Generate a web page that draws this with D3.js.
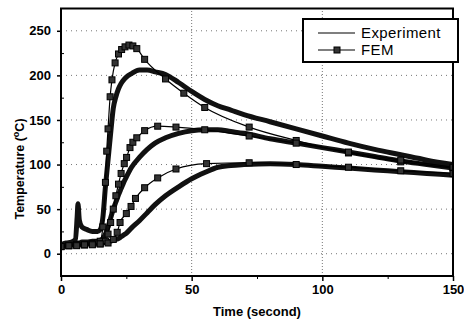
<!DOCTYPE html>
<html>
<head>
<meta charset="utf-8">
<script src="https://cdn.jsdelivr.net/npm/d3@7"></script>
<style>
  body { margin: 0; background: #fff; }
  svg text { font-family: "Liberation Sans", Arial, Helvetica, sans-serif; }
</style>
</head>
<body>
<div class="chart"></div>
<script>
// Experiment curves (shared time base, seconds)
const expTime = [0, 2, 4, 5.5, 6.2, 6.5, 7, 8, 10, 12, 14, 15, 16, 17, 18, 19, 20, 21, 22, 23, 24, 25, 27, 30, 33, 36, 40, 45, 50, 55, 60, 65, 70, 80, 90, 100, 110, 120, 130, 140, 150];
const exp1 = [10, 12, 13, 16, 42, 56, 38, 30, 27, 25, 25, 27, 40, 75, 105, 135, 163, 176, 185, 191, 195, 198, 202, 206, 206, 204, 201, 192, 182, 173, 166, 161, 156, 148, 140, 132, 124, 117, 111, 105, 100];
const exp2 = [10, 11, 12, 12, 12, 12, 12, 13, 13, 14, 14, 15, 17, 22, 30, 40, 50, 58, 66, 73, 80, 86, 97, 108, 117, 124, 130, 135, 138, 139, 139, 137, 135, 129, 124, 119, 114, 109, 104, 100, 96];
const exp3 = [8, 9, 10, 10, 10, 10, 10, 10, 11, 11, 12, 12, 12, 13, 13, 14, 15, 16, 17, 19, 21, 23, 29, 37, 46, 55, 65, 75, 84, 91, 97, 99, 100, 101, 100, 98, 96, 94, 92, 90, 88];

// FEM curves (each with its own time steps)
const fem1Time = [0, 3, 6, 9, 12, 14, 15, 16, 17, 17.5, 18, 18.8, 19.5, 20.7, 22, 23.2, 24.5, 26, 27.5, 29, 32, 40, 47, 55, 72, 90, 110, 130, 150];
const fem1 = [8, 9, 10, 10, 11, 12, 14, 30, 80, 115, 140, 176, 195, 214, 224, 229, 232, 234, 233, 230, 218, 196, 180, 164, 142, 127, 113, 103, 96];
const fem2Time = [0, 3, 6, 9, 12, 15, 17, 18, 19, 20, 21, 22, 23, 24.2, 25.1, 26.4, 27.5, 29, 32, 37, 44, 55, 72, 90, 110, 130, 150];
const fem2 = [8, 9, 10, 10, 11, 11, 14, 22, 35, 50, 65, 78, 90, 101, 108, 119, 125, 130, 138, 143, 142, 139, 132, 124, 114, 105, 97];
const fem3Time = [0, 3, 6, 9, 12, 15, 18, 20, 21.5, 22.6, 25, 26.8, 28.5, 32, 37, 44, 55.7, 72, 90, 110, 130, 150];
const fem3 = [8, 9, 9, 10, 10, 11, 12, 16, 24, 35, 45, 53, 62, 74, 85, 95, 101, 102, 100, 97, 93, 90];

const xTicks = [0, 50, 100, 150];
const xMinor = [25, 75, 125];
const yTicks = [0, 50, 100, 150, 200, 250];
const yMinor = [-25, 25, 75, 125, 175, 225];
const legendLabels = ['Experiment', 'FEM'];

const width = 464, height = 320;
const margin = { left: 61, right: 11, top: 8.5, bottom: 44 };

const svg = d3.select('.chart')
  .append('svg')
  .attr('width', width)
  .attr('height', height);

const x = d3.scaleLinear().domain([0, 150]).range([margin.left, width - margin.right]);
const y = d3.scaleLinear().domain([-25, 275]).range([height - margin.bottom, margin.top]);

// dotted grid
svg.append('g')
  .selectAll('line')
  .data(yTicks)
  .join('line')
  .attr('x1', x(0)).attr('x2', x(150))
  .attr('y1', d => y(d)).attr('y2', d => y(d))
  .attr('stroke', '#777')
  .attr('stroke-width', 1)
  .attr('stroke-dasharray', '1,4');

svg.append('g')
  .selectAll('line')
  .data([50, 100])
  .join('line')
  .attr('x1', d => x(d)).attr('x2', d => x(d))
  .attr('y1', y(-25)).attr('y2', y(275))
  .attr('stroke', '#777')
  .attr('stroke-width', 1)
  .attr('stroke-dasharray', '1,2');

svg.append('clipPath')
  .attr('id', 'plot')
  .append('rect')
  .attr('x', x(0)).attr('y', y(275))
  .attr('width', x(150) - x(0)).attr('height', y(-25) - y(275));

const plot = svg.append('g').attr('clip-path', 'url(#plot)');

// experiment bands
const expLine = d3.line()
  .x((d, i) => x(expTime[i]))
  .y(d => y(d))
  .curve(d3.curveMonotoneX);

[exp1, exp2, exp3].forEach(s => {
  plot.append('path')
    .attr('d', expLine(s))
    .attr('fill', 'none')
    .attr('stroke', '#111')
    .attr('stroke-width', 5)
    .attr('stroke-linejoin', 'round');
});

// FEM lines with square markers
const fems = [[fem1Time, fem1], [fem2Time, fem2], [fem3Time, fem3]];
fems.forEach(([t, v]) => {
  const line = d3.line()
    .x((d, i) => x(t[i]))
    .y(d => y(d))
    .curve(d3.curveMonotoneX);

  plot.append('path')
    .attr('d', line(v))
    .attr('fill', 'none')
    .attr('stroke', '#000')
    .attr('stroke-width', 1.2);

  plot.append('g')
    .selectAll('rect')
    .data(v)
    .join('rect')
    .attr('x', (d, i) => x(t[i]) - 3)
    .attr('y', d => y(d) - 3)
    .attr('width', 6)
    .attr('height', 6)
    .attr('fill', '#333')
    .attr('stroke', '#000')
    .attr('stroke-width', 1);
});

// axes
const xAxis = svg.append('g')
  .attr('transform', `translate(0, ${y(-25)})`)
  .call(d3.axisBottom(x).tickValues(xTicks).tickSize(5).tickPadding(4));

svg.append('g')
  .attr('transform', `translate(0, ${y(-25)})`)
  .call(d3.axisBottom(x).tickValues(xMinor).tickSize(3).tickFormat(''))
  .call(g => g.select('.domain').remove());

const yAxis = svg.append('g')
  .attr('transform', `translate(${x(0)}, 0)`)
  .call(d3.axisLeft(y).tickValues(yTicks).tickSize(4).tickPadding(6));

svg.append('g')
  .attr('transform', `translate(${x(0)}, 0)`)
  .call(d3.axisLeft(y).tickValues(yMinor).tickSize(-3).tickFormat(''))
  .call(g => g.select('.domain').remove());

[xAxis, yAxis].forEach(g => {
  g.select('.domain').remove();
  g.selectAll('.tick line').attr('stroke', '#000').attr('stroke-width', 1.5);
  g.selectAll('.tick text')
    .attr('fill', '#000')
    .attr('font-size', 13)
    .attr('font-weight', 'bold')
    .style('font-family', '"Liberation Sans", Arial, sans-serif');
});

// frame
svg.append('rect')
  .attr('x', x(0)).attr('y', y(275))
  .attr('width', x(150) - x(0)).attr('height', y(-25) - y(275))
  .attr('fill', 'none')
  .attr('stroke', '#000')
  .attr('stroke-width', 2);

// axis titles
svg.append('text')
  .attr('x', (x(0) + x(150)) / 2)
  .attr('y', 316)
  .attr('text-anchor', 'middle')
  .attr('font-size', 13)
  .attr('font-weight', 'bold')
  .text('Time (second)');

const yTitle = svg.append('text')
  .attr('transform', 'translate(24, 169) rotate(-90)')
  .attr('text-anchor', 'middle')
  .attr('font-size', 12.5)
  .attr('font-weight', 'bold');
yTitle.append('tspan').text('Temperature (');
yTitle.append('tspan').attr('font-size', 9).attr('dy', -5).text('o');
yTitle.append('tspan').attr('dy', 5).text('C)');

// legend
const legend = svg.append('g');
legend.append('rect')
  .attr('x', 303).attr('y', 19)
  .attr('width', 155).attr('height', 43)
  .attr('fill', '#fff')
  .attr('stroke', '#000')
  .attr('stroke-width', 2);

legendLabels.forEach((label, i) => {
  const ly = 33 + i * 17;
  legend.append('line')
    .attr('x1', 318).attr('x2', 355)
    .attr('y1', ly).attr('y2', ly)
    .attr('stroke', '#000')
    .attr('stroke-width', 1.2);
  if (label === 'FEM') {
    legend.append('rect')
      .attr('x', 334).attr('y', ly - 3)
      .attr('width', 6).attr('height', 6)
      .attr('fill', '#333')
      .attr('stroke', '#000');
  }
  legend.append('text')
    .attr('x', 361)
    .attr('y', ly + 5)
    .attr('font-size', 15)
    .attr('letter-spacing', 0.4)
    .text(label);
});
</script>
</body>
</html>
